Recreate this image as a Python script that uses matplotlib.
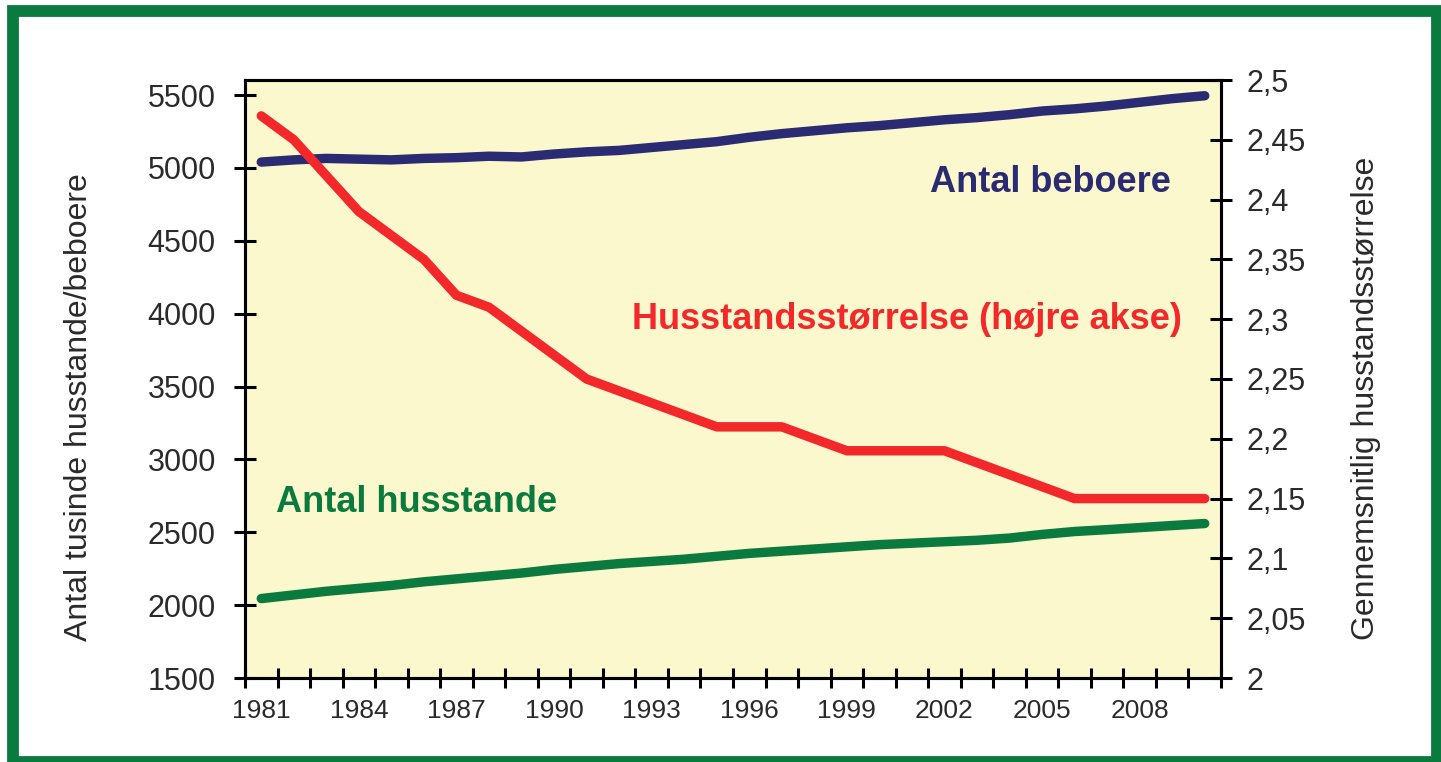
import numpy as np
import matplotlib
matplotlib.use("Agg")
import matplotlib.pyplot as plt
from matplotlib.patches import Rectangle

plt.rcParams["font.family"] = ["Liberation Sans", "DejaVu Sans"]

# data
years = list(range(1981, 2011))
beboere = [5040, 5055, 5065, 5060, 5055, 5065, 5070, 5080, 5075, 5095,
           5110, 5120, 5140, 5160, 5180, 5210, 5235, 5255, 5275, 5290,
           5310, 5330, 5345, 5365, 5390, 5405, 5425, 5450, 5475, 5495]
husstande = [2045, 2070, 2095, 2115, 2135, 2160, 2180, 2200, 2220, 2245,
             2265, 2285, 2300, 2315, 2335, 2355, 2370, 2385, 2400, 2415,
             2425, 2435, 2445, 2460, 2485, 2505, 2518, 2532, 2546, 2560]
stoerrelse = [2.47, 2.45, 2.42, 2.39, 2.37, 2.35, 2.32, 2.31, 2.29, 2.27,
              2.25, 2.24, 2.23, 2.22, 2.21, 2.21, 2.21, 2.20, 2.19, 2.19,
              2.19, 2.19, 2.18, 2.17, 2.16, 2.15, 2.15, 2.15, 2.15, 2.15]

left_ticks = [1500, 2000, 2500, 3000, 3500, 4000, 4500, 5000, 5500]
right_ticks = [2, 2.05, 2.1, 2.15, 2.2, 2.25, 2.3, 2.35, 2.4, 2.45, 2.5]
right_labels = ["2", "2,05", "2,1", "2,15", "2,2", "2,25", "2,3", "2,35", "2,4", "2,45", "2,5"]

navy = "#2A2B72"
red = "#F2282B"
green = "#0B7A3E"
bg = "#FAF8CC"
txt = "#2A2A2A"

fig = plt.figure(figsize=(14.41, 7.62), dpi=100)
ax = fig.add_axes([245 / 1441, 1 - 678 / 762, 976 / 1441, 598 / 762])
ax.set_facecolor(bg)
ax2 = ax.twinx()

x = np.arange(len(years))
ax.plot(x, beboere, color=navy, lw=6.8, solid_capstyle="round", zorder=3)
ax.plot(x, husstande, color=green, lw=6.8, solid_capstyle="round", zorder=3)
ax2.plot(x, stoerrelse, color=red, lw=6.8, solid_capstyle="round", zorder=3)

ax.set_xlim(-0.5, len(years) - 0.5)
ax.set_ylim(1500, 5603)
ax2.set_ylim(2, 2.5)

# category axis: ticks on the boundaries, labels in the middle
ax.set_xticks(np.arange(-0.5, len(years)), [""] * (len(years) + 1))
ax.set_xticks(x[::3], [str(y) for y in years[::3]], minor=True)
ax.tick_params(axis="x", which="major", direction="inout", length=15, width=2.2)
ax.tick_params(axis="x", which="minor", length=0, pad=15, labelsize=19, labelcolor=txt)

ax.set_yticks(left_ticks, [str(v) for v in left_ticks])
ax.tick_params(axis="y", direction="inout", length=16, width=2.2, labelsize=22,
               pad=13, labelcolor=txt)
ax2.set_yticks(right_ticks, right_labels)
ax2.tick_params(axis="y", direction="inout", length=16, width=2.2, labelsize=22,
                pad=10, labelcolor=txt)

for a in (ax, ax2):
    for s in a.spines.values():
        s.set_linewidth(2.2)

ax.set_ylabel("Antal tusinde husstande/beboere", fontsize=23, color=txt)
ax.yaxis.set_label_coords(-0.155, 0.453)
ax2.set_ylabel("Gennemsnitlig husstandsstørrelse", fontsize=23, color=txt)
ax2.yaxis.set_label_coords(1.133, 0.468)

ax.text(0.825, 0.828, "Antal beboere", transform=ax.transAxes, ha="center", va="center",
        fontsize=26, fontweight="bold", color=navy)
ax.text(0.678, 0.599, "Husstandsstørrelse (højre akse)", transform=ax.transAxes,
        ha="center", va="center", fontsize=26, fontweight="bold", color=red)
ax.text(0.176, 0.294, "Antal husstande", transform=ax.transAxes, ha="center", va="center",
        fontsize=26, fontweight="bold", color=green)

# green frame round the whole picture
fig.patches.append(Rectangle((13 / 1441, 0.0), 1424 / 1441, 1 - 11 / 762,
                             transform=fig.transFigure, fill=False,
                             edgecolor=green, lw=8.5))

fig.savefig("out.png", dpi=100)
